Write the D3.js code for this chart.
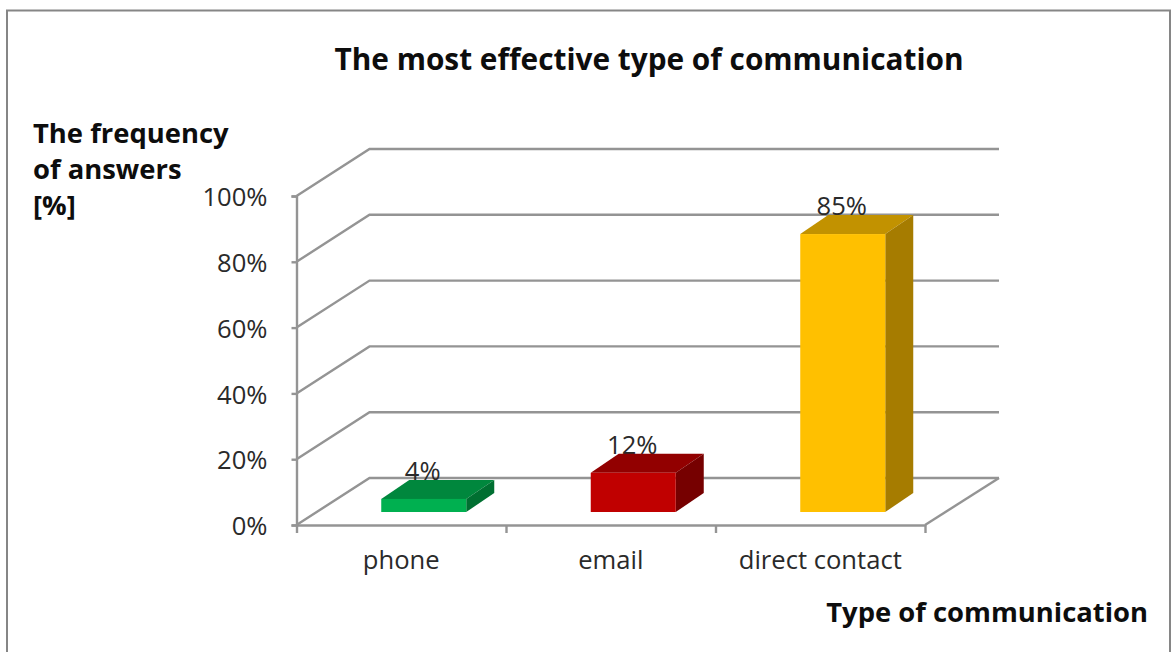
<!DOCTYPE html>
<html>
<head>
<meta charset="utf-8">
<script src="https://cdn.jsdelivr.net/npm/d3@7"></script>
<style>
html,body{margin:0;padding:0;background:#fff;}
svg{display:block;}
text{font-family:"Open Sans","Noto Sans",sans-serif;}
</style>
</head>
<body>
<svg id="chart" width="1171" height="652"></svg>
<script>
const categories = ["phone", "email", "direct contact"];
const answers = [4, 12, 85];
const frontColors = ["#00b050", "#c00000", "#ffc000"];
const topColors = ["#00873d", "#920000", "#c29200"];
const sideColors = ["#006f31", "#760000", "#a67c00"];
const percentTicks = [0, 20, 40, 60, 80, 100];
const yAxisLines = ["The frequency", "of answers", "[%]"];

const svg = d3.select("#chart");
const gridColor = "#949494";
const inkColor = "#2a2a2a";
const labelSize = 25.6;

const x = d3.scaleBand().domain(categories).range([296.5, 925]);
const y = d3.scaleLinear().domain([0, 100]).range([525, 196]);
// Columns stand further back on the floor, so they use their own vertical scale
const yBar = d3.scaleLinear().domain([0, 100]).range([512, 185]);

// Oblique projection: the wall sits behind the floor's front edge
const wall = {dx: 73, dy: -47};
const barInset = 22.5;
const barDepth = {dx: 28, dy: -19};
const barWidth = 85;

// Outer frame, open along the bottom edge
svg.append("path")
  .attr("d", "M7,652V10.5H1170V652")
  .attr("fill", "none").attr("stroke", "#868686").attr("stroke-width", 2);

// Gridlines along the wall and up the left side
const grid = svg.append("g").attr("fill", "none").attr("stroke", gridColor).attr("stroke-width", 2.4);
grid.selectAll("path").data(percentTicks).join("path")
  .attr("d", t => d3.line()([
    [x.range()[0], y(t)],
    [x.range()[0] + wall.dx, y(t) + wall.dy],
    [x.range()[1] + wall.dx + 1, y(t) + wall.dy]
  ]));

// Floor edge on the right
grid.append("path").attr("d", d3.line()([
  [x.range()[1], y(0)],
  [x.range()[1] + wall.dx + 1, y(0) + wall.dy]
]));

// Left axis and its ticks, right-aligned labels
const yAxis = d3.axisLeft(y).tickValues(percentTicks).tickFormat(d => d + "%").tickSize(5).tickPadding(24);
const yG = svg.append("g").attr("transform", `translate(${x.range()[0]},0)`).call(yAxis);

// Bottom axis with ticks on the band edges
const edges = categories.map(c => x(c)).concat([x.range()[1]]);
const xAxis = d3.axisBottom(d3.scaleLinear().domain(d3.extent(edges)).range(d3.extent(edges)))
  .tickValues(edges).tickFormat("").tickSize(8).tickSizeOuter(0);
const xG = svg.append("g").attr("transform", `translate(0,${y(0)})`).call(xAxis);

[yG, xG].forEach(g => {
  g.selectAll("path,line").attr("stroke", gridColor).attr("stroke-width", 2.4);
});
yG.selectAll("text").attr("font-size", labelSize).attr("fill", inkColor)
  .attr("dy", "0.38em")
  .style("font-family", '"Open Sans","Noto Sans",sans-serif');

// Category labels
svg.append("g").selectAll("text").data(categories).join("text")
  .attr("x", c => x(c) + x.bandwidth() / 2)
  .attr("y", 568.5)
  .attr("text-anchor", "middle")
  .attr("font-size", labelSize)
  .attr("fill", inkColor)
  .text(c => c);

// Columns: top face, side face, then the front
const bars = svg.append("g").selectAll("g").data(categories).join("g");
const left = c => x(c) + (x.bandwidth() - barWidth) / 2 + barInset;
const value = i => answers[i];
const base = yBar(0);
const topY = i => yBar(value(i));

// Value labels sit on the top faces, behind the column edges
bars.append("text")
  .attr("x", c => left(c) + barWidth / 2 - 1)
  .attr("y", (c, i) => topY(i) + barDepth.dy)
  .attr("text-anchor", "middle")
  .attr("font-size", labelSize)
  .attr("fill", inkColor)
  .text((c, i) => value(i) + "%");

bars.append("path")
  .attr("fill", (c, i) => topColors[i])
  .attr("d", (c, i) => d3.line()([
    [left(c), topY(i)],
    [left(c) + barDepth.dx, topY(i) + barDepth.dy],
    [left(c) + barWidth + barDepth.dx, topY(i) + barDepth.dy],
    [left(c) + barWidth, topY(i)]
  ]) + "Z");
bars.append("path")
  .attr("fill", (c, i) => sideColors[i])
  .attr("d", (c, i) => d3.line()([
    [left(c) + barWidth, topY(i)],
    [left(c) + barWidth + barDepth.dx, topY(i) + barDepth.dy],
    [left(c) + barWidth + barDepth.dx, base + barDepth.dy],
    [left(c) + barWidth, base]
  ]) + "Z");
bars.append("rect")
  .attr("fill", (c, i) => frontColors[i])
  .attr("x", c => left(c))
  .attr("y", (c, i) => topY(i))
  .attr("width", barWidth)
  .attr("height", (c, i) => base - topY(i));

// Titles
const boldWeight = 700;
const boldFill = "#0d0d0d";
svg.append("text").attr("x", 649).attr("y", 70)
  .attr("text-anchor", "middle").attr("font-size", 29.8)
  .attr("font-weight", boldWeight).attr("fill", boldFill)
  .text("The most effective type of communication");
svg.append("g").selectAll("text").data(yAxisLines).join("text")
  .attr("x", 33).attr("y", (d, i) => 143 + i * 36)
  .attr("font-size", 27.4).attr("font-weight", boldWeight).attr("fill", boldFill)
  .text(d => d);
svg.append("text").attr("x", 1148).attr("y", 622)
  .attr("text-anchor", "end").attr("font-size", 27.4)
  .attr("font-weight", boldWeight).attr("fill", boldFill)
  .text("Type of communication");
</script>
</body>
</html>
